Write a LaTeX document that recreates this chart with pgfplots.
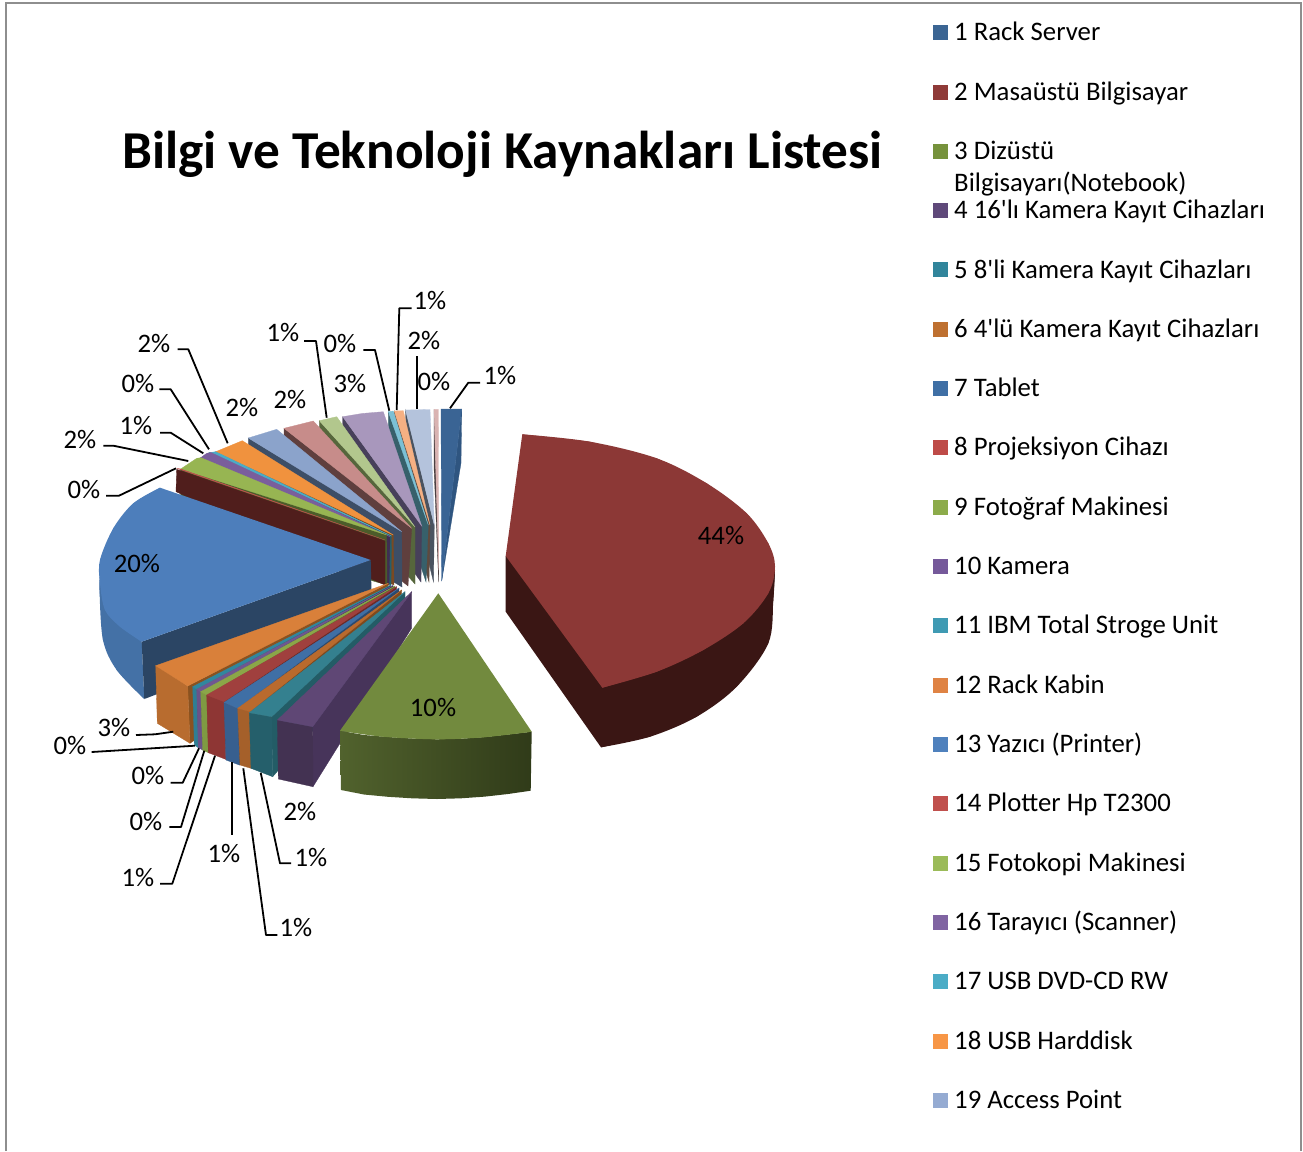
\documentclass[border=0pt]{standalone}
\usepackage{pgfplots}
\pgfplotsset{compat=1.18}
\usepackage{fontspec}
\setmainfont{Carlito}
\definecolor{frame}{HTML}{8E8E8E}
\definecolor{gl}{HTML}{51622D}
\definecolor{gr}{HTML}{303B19}
\newcommand{\pctl}[3]{\node[anchor=center,inner sep=0pt,font=\fontsize{26.7}{30}\selectfont] at (axis cs:#1,#2) {#3\%};}
\newcommand{\lgd}[2]{\node[anchor=base west,inner sep=0pt,yshift=-0.5pt,font=\fontsize{26.75}{30}\selectfont] at (axis cs:954,#1) {#2};}
\newcommand{\polyf}[2]{\definecolor{c#1}{HTML}{#1}\addplot[draw=none,fill=c#1,line width=0pt,forget plot] coordinates {#2} --cycle;}
\newcommand{\shd}[2]{\definecolor{c#1}{HTML}{#1}\addplot[draw=c#1,line width=0.3pt,fill=c#1,forget plot] coordinates {#2} --cycle;}
\newcommand{\capf}[2]{\definecolor{c#1}{HTML}{#1}\addplot[draw=none,fill=c#1,smooth,tension=0.55,forget plot] coordinates {#2};}
\newcommand{\leadl}[1]{\addplot[black,line width=1.8pt,forget plot,line join=round] coordinates {#1};}
\begin{document}
\begin{tikzpicture}
\begin{axis}[scale only axis,width=1303pt,height=1151pt,xmin=0,xmax=1303,ymin=0,ymax=1151,y dir=reverse,axis lines=none,clip=true]
\polyf{FFFFFF}{(0,0)(1303,0)(1303,1151)(0,1151)}
\addplot[frame,line width=2pt,forget plot] coordinates {(6,1151)(6,3)(1301,3)(1301,1151)};

% Slice 1
\shd{2F5580}{(461.7,409)(461,463)(441.7,581)}
\shd{3A6494}{(441,409)(461.7,409)(441.7,581)}
% Slice 26
\shd{4A3F40}{(434,409.3)(434,467)(438.7,582)(438.7,570)}
\shd{D9B3B2}{(434,409.3)(438.3,409.3)(438.7,570)}
% Slice 25
\shd{4A5360}{(405.5,410)(405.5,467)(433.5,582)(434.3,525)}
\shd{B4C3DC}{(405.5,410)(430,409.5)(434.3,525)}
% Slice 24
\shd{5F4A3E}{(394.3,411)(394.3,468)(429,582)(430,525)}
\shd{F5B083}{(394.3,411)(403.3,410.7)(430,525)}
% Slice 23
\shd{37606B}{(388.3,411.7)(388.3,468)(426,582)(428.3,525)}
\shd{7BC0D5}{(388.3,411.7)(393.3,411)(428.3,525)}
% Slice 22
\shd{47405A}{(342.7,416.7)(342.7,473)(421,582)(421.7,526)}
\shd{A897BC}{(342.7,416.7)(362,413.5)(383.3,411.7)(421.7,526)}
% Slice 21
\shd{56663C}{(319.3,420.7)(319.3,477)(415,584)(415,527)}
\shd{B2C78D}{(319.3,420.7)(336.7,416.7)(415,527)}
% Slice 20
\shd{5F3F3E}{(284,428.3)(284,485)(408,586)(411.7,528.3)}
\shd{C78C8A}{(284,428.3)(313.3,421)(411.7,528.3)}
% Slice 19
\shd{3D4E66}{(248.3,438)(248.3,495)(402,587)(401.7,531.7)}
\shd{8BA3CB}{(248.3,438)(276.7,429.3)(401.7,531.7)}
% Slice 18
\shd{7A4A22}{(215.7,451.7)(215.7,508)(394,585)(393.3,535)}
\shd{F0923E}{(215.7,451.7)(242.3,440.7)(393.3,535)}
% Slice 17
\shd{255F6B}{(209,452.5)(209,510)(391,585)(391.5,536)}
\shd{4BACC6}{(209,452.5)(211.7,452.3)(215.7,451.7)(391.5,536)}
% Slice 16
\shd{3F2E52}{(200.7,457.7)(200.7,515)(389,585)(390,536.7)}
\shd{7A5E9C}{(200.7,457.7)(206.7,453.3)(211,452.5)(390,536.7)}
% Slice 15
\shd{4C5C2A}{(180.7,469)(180.7,525)(387,585)(386.7,535)}
\shd{97B552}{(180.7,469)(196.7,458.3)(201,457.7)(386.7,535)}
% Slice 14
\shd{501E1C}{(176.7,469.3)(385,541)(385,585)(176,491.7)}
\shd{C0504D}{(176.7,468.3)(180.7,469)(385,540)}

% Slice 13 (20%)
\capf{4471A6}{(100,575)(99.5,590)(103,640)(116.7,670)(144.3,699)}
\polyf{4471A6}{(100,575)(99.5,590)(103,640)(116.7,670)(144.3,699)(141.7,641.7)}
\polyf{2B4564}{(370.7,560)(141.7,641.7)(144.3,699)(372,612)}
\capf{4D7EBB}{(160,487.7)(133.3,503.3)(113.3,528.3)(100,560)(100,583)(105,610)(120,626.7)(141.7,641.7)}
\polyf{4D7EBB}{(160,487.7)(133.3,503.3)(113.3,528.3)(100,560)(100,583)(105,610)(120,626.7)(141.7,641.7)(370.7,560)}

% Slice 12
\shd{8A5220}{(187.7,686)(388.3,583.3)(388.3,608)(190,743.3)}
\shd{B86C2F}{(155.7,665.7)(187.7,686)(190,743.3)(157.3,723.3)}
\shd{D9803A}{(155.7,665.7)(187.7,686)(388.3,583.3)}
% Slice 11
\shd{245E6E}{(196.7,689.3)(391,585)(391,610)(198.3,747.7)}
\shd{2F7E94}{(192.7,686.7)(196.7,689.3)(198.3,747.7)(194.3,745)}
\shd{31879E}{(192.7,686.7)(196.7,689.3)(391,585)}
% Slice 10
\shd{4A3860}{(200.7,691.7)(393,585.5)(393,610)(202.7,750)}
\shd{6A5288}{(196.7,689.3)(200.7,691.7)(202.7,750)(198.3,747.7)}
\shd{6F5791}{(196.7,689.3)(200.7,691.7)(393,585.5)}
% Slice 9
\shd{5F7030}{(206.7,695)(395,586)(395,611)(208.3,752.7)}
\shd{7F9A42}{(200.7,691.7)(206.7,695)(208.3,752.7)(202.7,750)}
\shd{8BA648}{(200.7,691.7)(206.7,695)(395,586)}
% Slice 8
\shd{6E2A28}{(224,701.7)(396.7,586.7)(396.7,612)(225.7,759.3)}
\shd{8E3634}{(206.7,695)(224,701.7)(225.7,759.3)(208.3,752.7)}
\shd{A0403E}{(206.7,695)(224,701.7)(396.7,586.7)}
% Slice 7
\shd{2A4A70}{(237.7,708.3)(399,588)(399,613)(239.3,765)}
\shd{375F8F}{(224,703)(237.7,708.3)(239.3,765)(226,760)}
\shd{3F6FA5}{(224,702.5)(237.7,708.3)(399,588)}
% Slice 6
\shd{7F4A1E}{(250,711.7)(401.7,590)(401.7,615)(251,768.3)}
\shd{A5602A}{(237.7,708.3)(250,711.7)(251,768.3)(240,765)}
\shd{B96A2D}{(237.7,708.3)(250,711.7)(401.7,590)}
% Slice 5
\shd{235C66}{(271.7,716.7)(405,591.7)(405,625)(272.7,776.7)}
\shd{255F6B}{(249.3,712.7)(271.7,716.7)(272.7,776.7)(251,768.3)}
\shd{34808F}{(249.3,712.7)(271.7,716.7)(405,591.7)}
% Slice 4
\shd{47345A}{(312.7,726.7)(411.7,591.7)(411.7,628)(313,786.7)}
\shd{433252}{(277.3,720)(312.7,726.7)(313,786.7)(278.3,779)}
\shd{5F4775}{(277.3,720)(312.7,726.7)(411.7,591.7)}

% Slice 3 (10%)
\addplot[draw=none,left color=gl,right color=gr,forget plot] coordinates {(340,730.7)(364,735)(388,737)(412,738.5)(437,739.3)(461,738.7)(485,737)(508,734.5)(531.7,731.7)(530.7,790.7)(508,794)(485,796.6)(461,798.3)(437,799)(412,798.3)(388,796.8)(364,794.5)(341,790)} --cycle;
\capf{728A3E}{(340,730.7)(383.3,736.7)(436.7,739.3)(483.3,737.3)(531.7,731.7)}
\polyf{728A3E}{(438.3,593.3)(340,730.7)(383.3,736.7)(436.7,739.3)(483.3,737.3)(531.7,731.7)}

% Slice 2 (44%)
\capf{3A1614}{(775,570)(773.3,600)(768.3,643.3)(736.7,686.7)(696.7,716.7)(650,736.7)(601,747.3)}
\polyf{3A1614}{(505.7,556)(505.7,611.7)(601,747.3)(650,736.7)(696.7,716.7)(736.7,686.7)(768.3,643.3)(773.3,600)(775,570)}
\capf{8C3836}{(522.3,434.3)(590,441.7)(656.7,458.3)(706.7,483.3)(746.7,513.3)(768.3,543.3)(775,566.7)(768.3,593.3)(743.3,623.3)(703.3,650)(656.7,671.7)(602.3,687.7)}
\polyf{8C3836}{(505.7,556)(522.3,434.3)(590,441.7)(656.7,458.3)(706.7,483.3)(746.7,513.3)(768.3,543.3)(775,566.7)(768.3,593.3)(743.3,623.3)(703.3,650)(656.7,671.7)(602.3,687.7)}

% Leader lines
\leadl{(450,408.3)(468.3,382.7)(480,382.7)}
\leadl{(417,409)(417,356)}
\leadl{(396.7,410)(399.3,308.3)(411.7,308.3)}
\leadl{(389.3,410.7)(375,350)(363.3,350)}
\leadl{(326.7,417.7)(316,341)(304,341)}
\leadl{(227.7,443.3)(188.3,349.3)(177.7,349.3)}
\leadl{(209,449.3)(170.7,389.3)(159.3,389.3)}
\leadl{(203.3,453.3)(170.7,432.7)(160,432.7)}
\leadl{(188.3,461)(113.3,445.7)(103.3,445.7)}
\leadl{(176,468.3)(119,495.7)(106,495.7)}
\leadl{(173.3,731.7)(155,734.3)(136,735)}
\leadl{(195,745.7)(91.7,752)}
\leadl{(199,748.3)(182.7,782.7)(170.7,782.7)}
\leadl{(204.3,750.7)(181,827)(169.3,827)}
\leadl{(215,755.7)(172.3,883.7)(160,883.7)}
\leadl{(231.7,762.3)(231.7,835)}
\leadl{(243.3,768.3)(266,935)(277.3,935)}
\leadl{(260.7,772.7)(280,863.3)(291,863.3)}

% Legend keys
\polyf{3B6593}{(933,25)(948,25)(948,40)(933,40)}
\polyf{8F3A38}{(933,85)(948,85)(948,100)(933,100)}
\polyf{76923C}{(933,144)(948,144)(948,159)(933,159)}
\polyf{5F497A}{(933,203)(948,203)(948,218)(933,218)}
\polyf{31859B}{(933,262)(948,262)(948,277)(933,277)}
\polyf{BE7030}{(933,322)(948,322)(948,337)(933,337)}
\polyf{3F6FA5}{(933,381)(948,381)(948,396)(933,396)}
\polyf{BE4B48}{(933,440)(948,440)(948,455)(933,455)}
\polyf{8CAB4A}{(933,500)(948,500)(948,515)(933,515)}
\polyf{75599A}{(933,559)(948,559)(948,574)(933,574)}
\polyf{3F9AB3}{(933,618)(948,618)(948,633)(933,633)}
\polyf{DF8344}{(933,678)(948,678)(948,693)(933,693)}
\polyf{4F81BD}{(933,737)(948,737)(948,752)(933,752)}
\polyf{C0504D}{(933,796)(948,796)(948,811)(933,811)}
\polyf{9BBB59}{(933,856)(948,856)(948,871)(933,871)}
\polyf{8064A2}{(933,915)(948,915)(948,930)(933,930)}
\polyf{4BACC6}{(933,974)(948,974)(948,989)(933,989)}
\polyf{F79646}{(933,1034)(948,1034)(948,1049)(933,1049)}
\polyf{95ABD2}{(933,1093)(948,1093)(948,1108)(933,1108)}

% Title and text
\node[anchor=base west,inner sep=0pt,font=\fontsize{53.3}{60}\bfseries\selectfont] at (axis cs:122,168) {Bilgi ve Teknoloji Kaynakları Listesi};
\lgd{40}{1 Rack Server}
\lgd{100}{2 Masaüstü Bilgisayar}
\lgd{159}{3 Dizüstü}
\lgd{191}{Bilgisayarı(Notebook)}
\lgd{218}{4 16\textquotesingle lı Kamera Kayıt Cihazları}
\lgd{278}{5 8\textquotesingle li Kamera Kayıt Cihazları}
\lgd{337}{6 4\textquotesingle lü Kamera Kayıt Cihazları}
\lgd{396}{7 Tablet}
\lgd{455}{8 Projeksiyon Cihazı}
\lgd{515}{9 Fotoğraf Makinesi}
\lgd{574}{10 Kamera}
\lgd{633}{11 IBM Total Stroge Unit}
\lgd{693}{12 Rack Kabin}
\lgd{752}{13 Yazıcı (Printer)}
\lgd{811}{14 Plotter Hp T2300}
\lgd{871}{15 Fotokopi Makinesi}
\lgd{930}{16 Tarayıcı (Scanner)}
\lgd{989}{17 USB DVD-CD RW}
\lgd{1049}{18 USB Harddisk}
\lgd{1108}{19 Access Point}

\pctl{721}{535}{44}
\pctl{137}{563}{20}
\pctl{433}{707}{10}
\pctl{500}{375.5}{1}
\pctl{424}{340.5}{2}
\pctl{434}{381.5}{0}
\pctl{430}{301}{1}
\pctl{340}{343.5}{0}
\pctl{350}{383.5}{3}
\pctl{283}{332}{1}
\pctl{290}{399.5}{2}
\pctl{242}{407.5}{2}
\pctl{154}{343}{2}
\pctl{138}{383.5}{0}
\pctl{136}{425.5}{1}
\pctl{80}{439.5}{2}
\pctl{84}{489.5}{0}
\pctl{114}{727.5}{3}
\pctl{70}{745.5}{0}
\pctl{148}{775.5}{0}
\pctl{146}{821.5}{0}
\pctl{138}{877.5}{1}
\pctl{224}{853}{1}
\pctl{296}{927.5}{1}
\pctl{311}{857.5}{1}
\pctl{300}{811.5}{2}
\end{axis}
\end{tikzpicture}
\end{document}
